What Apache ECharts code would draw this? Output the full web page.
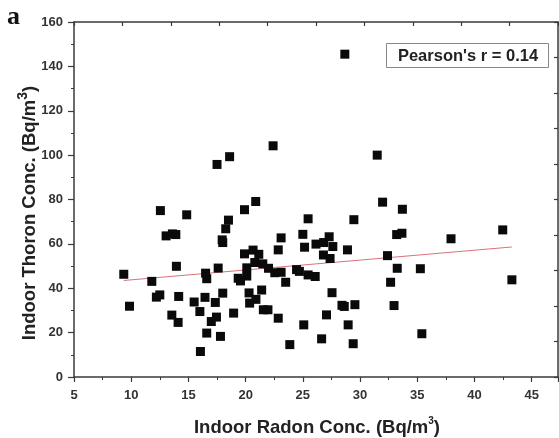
<!DOCTYPE html>
<html>
<head>
<meta charset="utf-8">
<script src="https://cdn.jsdelivr.net/npm/echarts@6/dist/echarts.min.js"></script>
<style>html,body{margin:0;padding:0;background:#fff}#c{width:559px;height:438px}</style>
</head>
<body>
<div id="c"></div>
<script>
// Indoor Radon concentration (x) and Indoor Thoron concentration (y), Bq/m3
const radonX = [9.35, 9.85, 11.8, 12.55, 12.2, 12.5, 13.05, 13.6, 13.9, 13.95, 13.55, 14.1, 14.15, 14.85,
  15.5, 16.0, 16.05, 16.5, 16.6, 16.45, 16.6, 17.0, 17.35, 17.45, 17.6, 17.8, 18.0, 17.95, 18.0, 18.26,
  18.5, 17.5, 18.6, 18.95, 19.35, 19.55, 20.1, 20.1, 19.9, 20.3, 20.35, 20.65, 20.9, 21.4, 21.15, 20.8,
  21.5, 22.0, 21.55, 21.95, 19.9, 20.88, 22.4, 22.55, 23.1, 23.5, 22.85, 23.1, 22.85, 23.86, 24.45, 24.7,
  25.0, 25.15, 25.46, 25.46, 26.08, 25.08, 26.15, 26.82, 27.3, 27.62, 26.8, 27.38, 27.55, 27.07, 26.64,
  28.9, 28.42, 28.62, 29.55, 28.96, 29.4, 29.46, 28.67, 31.5, 31.97, 33.7, 32.4, 33.2, 33.66, 33.25,
  35.27, 32.67, 32.97, 35.4, 37.95, 42.47, 43.27];
const thoronY = [46.3, 31.9, 43.1, 75, 36, 37, 63.6, 64.5, 64.2, 49.9, 27.9, 24.6, 36.3, 73.1,
  33.8, 29.5, 11.5, 46.8, 44.3, 35.9, 19.8, 25, 33.6, 27, 49.1, 18.3, 37.8, 61.8, 60.6, 66.8,
  70.7, 95.8, 99.3, 28.8, 44.5, 43.3, 45.5, 49.2, 55.5, 37.9, 33.3, 57.2, 35, 39.2, 55.3, 51.6,
  51, 49, 30.3, 30.3, 75.4, 79.1, 104.2, 47, 47.2, 42.7, 57.3, 62.7, 26.5, 14.6, 48.4, 47.6,
  64.3, 58.5, 71.3, 46, 45.3, 23.5, 59.9, 60.6, 63.2, 58.8, 55, 53.4, 38, 28, 17.2,
  57.3, 32.3, 31.8, 32.6, 23.5, 15, 70.9, 145.5, 100, 78.8, 75.6, 54.7, 64.2, 64.8, 49,
  48.8, 42.7, 32.2, 19.5, 62.3, 66.3, 43.8];
// Linear fit line end points
const fitX = [9.35, 43.27];
const fitY = [43.5, 58.6];
const xTicks = [5, 10, 15, 20, 25, 30, 35, 40, 45];
const yTicks = [0, 20, 40, 60, 80, 100, 120, 140, 160];
const pearsonText = "Pearson's r = 0.14";

const chart = echarts.init(document.getElementById('c'), null, {renderer: 'canvas'});
const scatterData = radonX.map((x, i) => [x, thoronY[i]]);
const fitData = fitX.map((x, i) => [x, fitY[i]]);
const frame = '#3a3a3a';
const lblStyle = {color: '#333', fontWeight: 'bold', fontSize: 13, fontFamily: 'Liberation Sans, Arial, sans-serif'};

chart.setOption({
  animation: false,
  backgroundColor: '#fff',
  grid: {left: 74, right: 1, top: 22, bottom: 61, show: false},
  xAxis: [{
    type: 'value', min: xTicks[0], max: 47.3, interval: 5, position: 'bottom',
    axisLine: {show: true, onZero: false, lineStyle: {color: frame, width: 1.5}},
    axisTick: {show: true, inside: false, length: 5, lineStyle: {color: frame, width: 1.2}},
    minorTick: {show: true, splitNumber: 2, length: 3, lineStyle: {color: frame, width: 1}},
    axisLabel: Object.assign({margin: 12, showMaxLabel: false,
      formatter: v => xTicks.includes(v) ? String(v) : ''}, lblStyle),
    splitLine: {show: false}
  }, {
    type: 'value', min: 0, max: 10, interval: 1, position: 'top',
    axisLine: {show: true, onZero: false, lineStyle: {color: frame, width: 1.5}},
    axisTick: {show: true, inside: true, length: 4, lineStyle: {color: frame, width: 1.2}},
    axisLabel: {show: false}, splitLine: {show: false}
  }],
  yAxis: [{
    type: 'value', min: 0, max: 160, interval: 20, position: 'left',
    axisLine: {show: true, onZero: false, lineStyle: {color: frame, width: 1.5}},
    axisTick: {show: true, inside: false, length: 6, lineStyle: {color: frame, width: 1.2}},
    minorTick: {show: true, splitNumber: 2, length: 3, lineStyle: {color: frame, width: 1}},
    axisLabel: Object.assign({margin: 11, formatter: v => yTicks.includes(v) ? String(v) : ''}, lblStyle),
    splitLine: {show: false}
  }, {
    type: 'value', min: 0, max: 10, interval: 1, position: 'right',
    axisLine: {show: true, onZero: false, lineStyle: {color: frame, width: 1.5}},
    axisTick: {show: true, inside: true, length: 4, lineStyle: {color: frame, width: 1.2}},
    axisLabel: {show: false}, splitLine: {show: false}
  }],
  series: [{
    type: 'line', xAxisIndex: 0, yAxisIndex: 0, data: fitData, symbol: 'none',
    lineStyle: {color: '#d9727c', width: 1}, z: 2
  }, {
    type: 'scatter', xAxisIndex: 0, yAxisIndex: 0, data: scatterData,
    symbol: 'rect', symbolSize: 9, itemStyle: {color: '#0a0a0a', opacity: 1}, z: 3
  }],
  graphic: [
    {type: 'text', left: 7, top: 4, style: {text: 'a', font: 'bold 26px "Liberation Serif", "Times New Roman", serif', fill: '#111'}},
    {type: 'rect', shape: {x: 386.5, y: 43.5, width: 162, height: 24}, style: {fill: '#fff', stroke: '#888', lineWidth: 1}, z: 10},
    {type: 'text', x: 468, y: 56, style: {text: pearsonText, font: 'bold 16.5px "Liberation Sans", Arial, sans-serif', fill: '#222', align: 'center', verticalAlign: 'middle'}, z: 11},
    {type: 'text', x: 28, y: 213, rotation: Math.PI / 2,
      style: {
        text: '{a|Indoor Thoron Conc. (Bq/m}{s|3}{a|)}', align: 'center', verticalAlign: 'middle',
        rich: {
          a: {font: 'bold 18.5px "Liberation Sans", Arial, sans-serif', fill: '#222', verticalAlign: 'bottom'},
          s: {font: 'bold 14px "Liberation Sans", Arial, sans-serif', fill: '#222', verticalAlign: 'top', padding: [0, 0, 9, 0]}
        }
      }},
    {type: 'text', x: 317, y: 427,
      style: {
        text: '{a|Indoor Radon Conc. (Bq/m}{s|3}{a|)}', align: 'center', verticalAlign: 'middle',
        rich: {
          a: {font: 'bold 18.5px "Liberation Sans", Arial, sans-serif', fill: '#222', verticalAlign: 'bottom'},
          s: {font: 'bold 10px "Liberation Sans", Arial, sans-serif', fill: '#222', verticalAlign: 'top', padding: [0, 0, 11, 0]}
        }
      }}
  ]
});
</script>
</body>
</html>
